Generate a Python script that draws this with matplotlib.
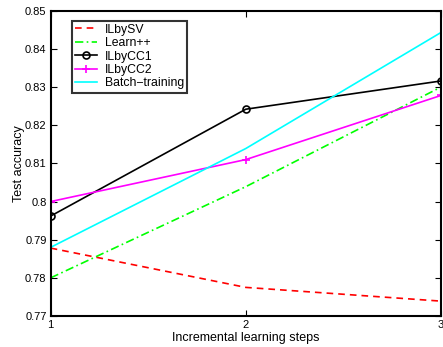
import matplotlib
matplotlib.use("Agg")
import matplotlib.pyplot as plt

plt.rcParams['font.family'] = ['Liberation Sans', 'DejaVu Sans']

steps = [1, 2, 3]
ilbysv = [0.7878, 0.7775, 0.7739]
learnpp = [0.7800, 0.8039, 0.8300]
ilbycc1 = [0.7962, 0.8242, 0.8316]
ilbycc2 = [0.8000, 0.8110, 0.8278]
batch = [0.7880, 0.8139, 0.8443]
yticks = [0.77, 0.78, 0.79, 0.8, 0.81, 0.82, 0.83, 0.84, 0.85]
yticklabels = ['0.77', '0.78', '0.79', '0.8', '0.81', '0.82', '0.83', '0.84', '0.85']

fig = plt.figure(figsize=(4.43, 3.47), dpi=100)
ax = fig.add_axes([0.1144, 0.0893, 0.881, 0.8797])

lw = 1.2
ax.plot(steps, ilbysv, color='#ff0000', linestyle=(0, (4, 3)), lw=lw, label='ILbySV')
ax.plot(steps, learnpp, color='#00ff00', linestyle=(0, (5, 2, 1, 2)), lw=lw, label='Learn++')
ax.plot(steps, ilbycc1, color='black', lw=lw, marker='o', markersize=5,
        markerfacecolor='none', markeredgewidth=1.2, label='ILbyCC1')
ax.plot(steps, ilbycc2, color='#ff00ff', lw=lw, marker='+', markersize=6,
        markeredgewidth=1.2, label='ILbyCC2')
ax.plot(steps, batch, color='#00ffff', lw=lw, label='Batch\u2212training')

ax.set_xlim(1, 3)
ax.set_ylim(0.77, 0.85)
ax.set_xticks(steps)
ax.set_yticks(yticks)
ax.set_yticklabels(yticklabels)
ax.tick_params(direction='in', top=True, right=True, labelsize=8, length=4, width=0.8, pad=3)
for s in ax.spines.values():
    s.set_linewidth(1.5)

ax.set_xlabel('Incremental learning steps', fontsize=9, labelpad=1)
ax.set_ylabel('Test accuracy', fontsize=9, labelpad=0)

leg = ax.legend(loc='upper left', bbox_to_anchor=(0.055, 0.968), fontsize=8.8,
                frameon=True, fancybox=False, borderpad=0.25, labelspacing=0.12,
                handlelength=1.8, handletextpad=0.6, borderaxespad=0)
leg.get_frame().set_edgecolor('black')
leg.get_frame().set_linewidth(1.5)

fig.savefig('out.png', dpi=100)
